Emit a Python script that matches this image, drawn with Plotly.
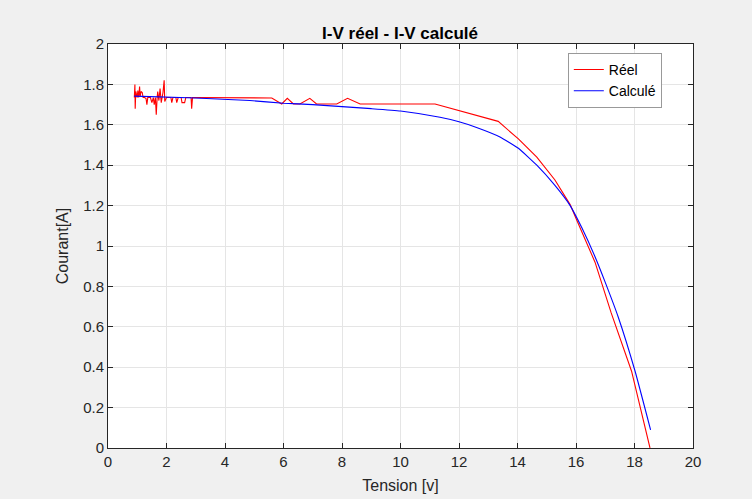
import plotly.graph_objects as go

# Measured I-V characteristic (tension in volts, current in amperes)
v_reel = [0.90, 0.92, 0.93, 0.95, 1.00, 1.02, 1.05, 1.08, 1.10, 1.13, 1.17, 1.20,
          1.25, 1.30, 1.33, 1.36, 1.45, 1.50, 1.55, 1.58, 1.62, 1.65, 1.68, 1.70,
          1.74, 1.78, 1.82, 1.86, 1.88, 1.92, 1.94, 2.00, 2.15, 2.18, 2.22, 2.32,
          2.35, 2.40, 2.50, 2.53, 2.62, 2.66, 2.84, 2.86, 2.89, 5.60, 5.94, 6.13,
          6.34, 6.56, 6.90, 7.13, 7.82, 8.19, 8.62, 11.18, 13.34, 14.03, 14.66,
          15.28, 15.80, 16.02, 16.65, 17.20, 17.90, 18.53]
i_reel = [1.735, 1.80, 1.68, 1.765, 1.735, 1.77, 1.735, 1.79, 1.74, 1.765, 1.76, 1.735,
          1.735, 1.73, 1.70, 1.735, 1.735, 1.71, 1.735, 1.70, 1.735, 1.65, 1.735, 1.765,
          1.72, 1.78, 1.71, 1.735, 1.76, 1.82, 1.715, 1.735, 1.735, 1.71, 1.735, 1.735,
          1.71, 1.735, 1.735, 1.71, 1.71, 1.735, 1.735, 1.68, 1.735, 1.733, 1.703, 1.731,
          1.703, 1.703, 1.731, 1.703, 1.703, 1.731, 1.703, 1.703, 1.617, 1.53, 1.44,
          1.327, 1.205, 1.13, 0.92, 0.67, 0.38, 0.0]

# Model (calculated) I-V characteristic
v_calc = [0.90, 3.00, 4.85, 6.00, 7.00, 8.00, 9.00, 10.00, 11.35, 12.00, 12.60, 13.40,
          14.03, 14.66, 15.28, 15.80, 16.20, 16.65, 17.00, 17.44, 18.02, 18.55]
i_calc = [1.742, 1.733, 1.72, 1.707, 1.70, 1.69, 1.68, 1.668, 1.637, 1.615, 1.587, 1.54,
          1.484, 1.40, 1.30, 1.20, 1.09, 0.947, 0.82, 0.65, 0.38, 0.09]

x_ticks = [0, 2, 4, 6, 8, 10, 12, 14, 16, 18, 20]
y_ticks = [0, 0.2, 0.4, 0.6, 0.8, 1, 1.2, 1.4, 1.6, 1.8, 2]
y_labels = ["0", "0.2", "0.4", "0.6", "0.8", "1", "1.2", "1.4", "1.6", "1.8", "2"]

font_family = "Liberation Sans, Arial, sans-serif"
axis_color = "#262626"

fig = go.Figure()
fig.add_trace(go.Scatter(x=v_reel, y=i_reel, mode="lines", name="Réel",
                         line=dict(color="#ff0000", width=1.1)))
fig.add_trace(go.Scatter(x=v_calc, y=i_calc, mode="lines", name="Calculé",
                         line=dict(color="#0000ff", width=1.1, shape="spline", smoothing=0.4)))

axis_common = dict(
    showgrid=True, gridcolor="#e5e5e5", gridwidth=1,
    showline=True, linecolor=axis_color, linewidth=1, mirror="allticks",
    ticks="inside", ticklen=5, tickcolor=axis_color,
    tickfont=dict(family=font_family, size=15, color=axis_color),
    zeroline=False, automargin=False,
)

fig.update_layout(
    width=752, height=499,
    paper_bgcolor="#f0f0f0", plot_bgcolor="#ffffff",
    margin=dict(l=108, r=59, t=44, b=51),
    title=dict(text="<b>I-V réel - I-V calculé</b>", x=0.532, xanchor="center",
               y=0.933, yanchor="middle",
               font=dict(family=font_family, size=17, color="#000000")),
    xaxis=dict(range=[0, 20], tickvals=x_ticks,
               title=dict(text="Tension [v]", standoff=10,
                          font=dict(family=font_family, size=16, color=axis_color)),
               **axis_common),
    yaxis=dict(range=[0, 2], tickvals=y_ticks, ticktext=y_labels,
               title=dict(text="Courant[A]", standoff=10,
                          font=dict(family=font_family, size=16, color=axis_color)),
               **axis_common),
    legend=dict(x=0.786, y=0.978, xanchor="left", yanchor="top",
                bgcolor="#ffffff", bordercolor="#999999", borderwidth=1,
                font=dict(family=font_family, size=14, color="#000000"),
                tracegroupgap=0, itemwidth=30),
    showlegend=True,
)

fig.write_html("out.html")
